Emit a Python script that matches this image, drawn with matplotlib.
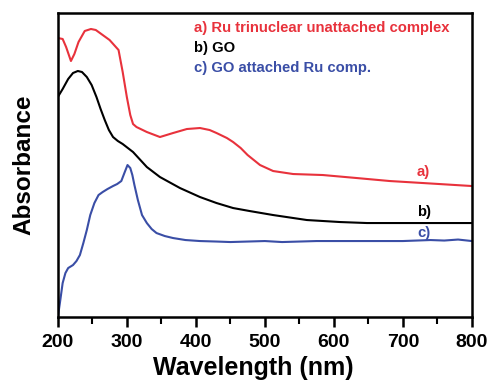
import numpy as np
import matplotlib
matplotlib.use("Agg")
import matplotlib.pyplot as plt

plt.rcParams['font.family'] = ['Liberation Sans', 'DejaVu Sans']
plt.rcParams['font.weight'] = 'bold'

# a) Ru trinuclear unattached complex
wl_a = [200, 207, 212, 219, 224, 230, 239, 248, 255, 261, 275, 288, 294, 300, 305,
        309, 314, 329, 348, 367, 387, 406, 420, 430, 445, 454, 465, 475, 493, 512,
        541, 584, 633, 681, 729, 800]
abs_a = [2.79, 2.78, 2.70, 2.56, 2.63, 2.75, 2.86, 2.88, 2.87, 2.84, 2.77, 2.67, 2.45,
         2.20, 2.02, 1.93, 1.90, 1.85, 1.80, 1.84, 1.88, 1.89, 1.87, 1.84, 1.79, 1.75,
         1.69, 1.62, 1.52, 1.46, 1.43, 1.42, 1.39, 1.36, 1.34, 1.31]

# b) GO
wl_b = [200, 207, 215, 222, 229, 235, 242, 249, 256, 262, 268, 274, 280, 287, 294,
        309, 329, 348, 377, 406, 430, 454, 478, 512, 561, 609, 648, 700, 800]
abs_b = [2.20, 2.28, 2.38, 2.44, 2.46, 2.45, 2.40, 2.32, 2.20, 2.08, 1.97, 1.87, 1.80,
         1.76, 1.73, 1.65, 1.50, 1.40, 1.29, 1.20, 1.14, 1.09, 1.06, 1.02, 0.97, 0.95,
         0.94, 0.94, 0.94]

# c) GO attached Ru comp.
wl_c = [200, 203, 207, 211, 215, 222, 227, 232, 237, 242, 247, 253, 259, 265, 272,
        280, 286, 292, 297, 301, 305, 308, 311, 316, 322, 329, 336, 343, 355, 367,
        385, 406, 430, 450, 475, 500, 525, 550, 575, 600, 650, 700, 720, 740, 760,
        780, 800]
abs_c = [0.00, 0.14, 0.34, 0.44, 0.49, 0.52, 0.56, 0.62, 0.74, 0.87, 1.02, 1.14, 1.22,
         1.25, 1.28, 1.31, 1.33, 1.36, 1.45, 1.52, 1.49, 1.42, 1.32, 1.17, 1.02, 0.94,
         0.88, 0.84, 0.81, 0.79, 0.77, 0.76, 0.755, 0.75, 0.755, 0.76, 0.75, 0.755,
         0.76, 0.76, 0.76, 0.76, 0.765, 0.77, 0.765, 0.775, 0.76]

red = '#e8323c'
blue = '#3a4ea6'

fig = plt.figure(figsize=(4.9, 3.82), dpi=100)
ax = fig.add_axes([0.118, 0.170, 0.845, 0.796])

ax.plot(wl_a, abs_a, color=red, lw=1.5)
ax.plot(wl_b, abs_b, color='black', lw=1.5)
ax.plot(wl_c, abs_c, color=blue, lw=1.5)

ax.set_xlim(200, 800)
ax.set_ylim(0, 3.04)
ax.set_xticks([200, 300, 400, 500, 600, 700, 800])
ax.set_xticks(np.arange(250, 800, 100), minor=True)
ax.set_yticks([])
ax.tick_params(axis='x', which='major', length=7, width=1.8, labelsize=14, pad=5)
ax.tick_params(axis='x', which='minor', length=5, width=1.5)
for s in ax.spines.values():
    s.set_linewidth(1.8)

ax.set_xlabel('Wavelength (nm)', fontsize=18, fontweight='bold')
ax.xaxis.set_label_coords(0.473, -0.128)
ax.set_ylabel('Absorbance', fontsize=17.5, fontweight='bold', labelpad=16)

fs = 10.7
ax.text(398, 2.89, 'a) Ru trinuclear unattached complex', color=red, fontsize=fs,
        fontweight='bold', va='center')
ax.text(398, 2.69, 'b) GO', color='black', fontsize=fs, fontweight='bold', va='center')
ax.text(398, 2.49, 'c) GO attached Ru comp.', color=blue, fontsize=fs,
        fontweight='bold', va='center')

ax.text(730, 1.45, 'a)', color=red, fontsize=fs, fontweight='bold', va='center', ha='center')
ax.text(730, 1.05, 'b)', color='black', fontsize=fs, fontweight='bold', va='center', ha='center')
ax.text(730, 0.84, 'c)', color=blue, fontsize=fs, fontweight='bold', va='center', ha='center')

fig.savefig('out.png', dpi=100)
